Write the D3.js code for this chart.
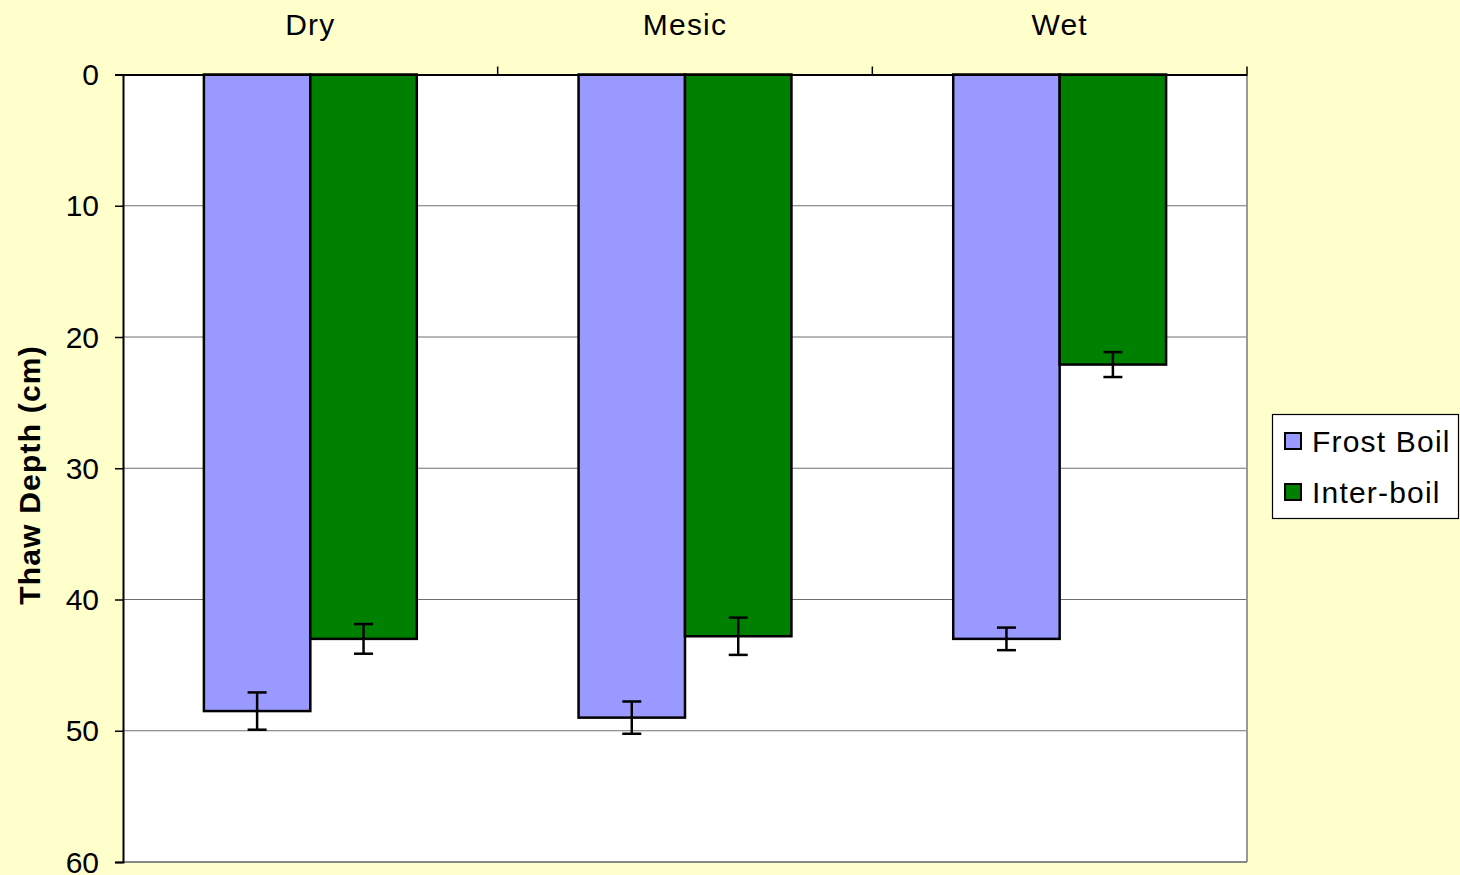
<!DOCTYPE html>
<html><head><meta charset="utf-8">
<script src="https://cdn.jsdelivr.net/npm/d3@7"></script>
<style>html,body{margin:0;padding:0;background:#FFFFCC;}svg{display:block;}</style>
</head><body>
<svg id="c" width="1460" height="875"></svg>
<script>
const categories = ["Dry", "Mesic", "Wet"];
const seriesNames = ["Frost Boil", "Inter-boil"];
const frostBoil = [48.5, 49.0, 43.0];
const interBoil = [43.0, 42.8, 22.1];
const frostBoilErr = [1.42, 1.23, 0.86];
const interBoilErr = [1.13, 1.42, 0.95];
const yTicks = [0, 10, 20, 30, 40, 50, 60];
const colors = ["#9999FF", "#008000"];

const svg = d3.select("#c");
const font = "'Liberation Sans', Arial, sans-serif";
const L = 123, R = 1247, T = 74.5, B = 862;

svg.append("rect").attr("width",1460).attr("height",875).attr("fill","#FFFFCC");
svg.append("rect").attr("x",L).attr("y",T).attr("width",R-L).attr("height",B-T).attr("fill","#fff");

const y = d3.scaleLinear().domain([0,60]).range([T,B]);
const x0 = d3.scaleBand().domain(categories).range([L,R]).paddingInner(0).paddingOuter(0);
const x1 = d3.scaleBand().domain(seriesNames).range([0,x0.bandwidth()]).paddingOuter(0.76).paddingInner(0);

// gridlines
svg.append("g").selectAll("line").data(yTicks.filter(d=>d>0 && d<60)).join("line")
  .attr("x1",L).attr("x2",R).attr("y1",d=>y(d)).attr("y2",d=>y(d))
  .attr("stroke","#707070").attr("stroke-width",1.2);

// plot border right/bottom gray
svg.append("line").attr("x1",R).attr("x2",R).attr("y1",T).attr("y2",B).attr("stroke","#999").attr("stroke-width",2);
svg.append("line").attr("x1",L).attr("x2",R).attr("y1",B).attr("y2",B).attr("stroke","#888").attr("stroke-width",2);

const data = [frostBoil, interBoil];
const errs = [frostBoilErr, interBoilErr];
seriesNames.forEach((s,si)=>{
  const g = svg.append("g");
  g.selectAll("rect").data(categories).join("rect")
    .attr("x",c=>x0(c)+x1(s)).attr("y",y(0))
    .attr("width",x1.bandwidth()).attr("height",(c,i)=>y(data[si][i])-y(0))
    .attr("fill",colors[si]).attr("stroke","#000").attr("stroke-width",2.5);
});
seriesNames.forEach((s,si)=>{
  const g = svg.append("g");
  categories.forEach((c,i)=>{
    const cx = x0(c)+x1(s)+x1.bandwidth()/2;
    const v = data[si][i], e = errs[si][i];
    g.append("line").attr("x1",cx).attr("x2",cx).attr("y1",y(v-e)).attr("y2",y(v+e)).attr("stroke","#000").attr("stroke-width",2.5);
    [v-e, v+e].forEach(t=>g.append("line").attr("x1",cx-9.5).attr("x2",cx+9.5).attr("y1",y(t)).attr("y2",y(t)).attr("stroke","#000").attr("stroke-width",2.5));
  });
});

// y axis
const yAxis = d3.axisLeft(y).tickValues(yTicks).tickSize(8).tickPadding(16);
const ya = svg.append("g").attr("transform",`translate(${L},0)`).call(yAxis);
ya.select(".domain").attr("stroke","#000").attr("stroke-width",2);
ya.selectAll(".tick line").attr("stroke","#000").attr("stroke-width",1.5);
ya.selectAll(".tick text").attr("font-family",font).attr("font-size",30).attr("fill","#000").attr("dy","0.34em");

// top axis
const xAxis = d3.axisTop(x0).tickSize(0).tickPadding(40);
const xa = svg.append("g").attr("transform",`translate(0,${T})`).call(xAxis);
xa.select(".domain").attr("stroke","#000").attr("stroke-width",2);
xa.selectAll(".tick text").attr("font-family",font).attr("font-size",30).attr("letter-spacing","1.2px").attr("fill","#000");
// category boundary ticks
svg.append("g").selectAll("line").data(categories.slice(1).map(c=>x0(c)).concat([R])).join("line")
  .attr("x1",d=>d).attr("x2",d=>d).attr("y1",T).attr("y2",T-8).attr("stroke","#000").attr("stroke-width",1.5);

// y title
svg.append("text").attr("transform","translate(40,475) rotate(-90)").attr("text-anchor","middle")
  .attr("font-family",font).attr("font-size",30).attr("letter-spacing","1.2px").attr("font-weight","bold").text("Thaw Depth (cm)");

// legend
const lg = svg.append("g");
lg.append("rect").attr("x",1272.5).attr("y",414.5).attr("width",186).attr("height",104).attr("fill","#fff").attr("stroke","#000").attr("stroke-width",1.2);
seriesNames.forEach((s,i)=>{
  const yy = 441 + i*51;
  lg.append("rect").attr("x",1285).attr("y",yy-8).attr("width",16).attr("height",16).attr("fill",colors[i]).attr("stroke","#000").attr("stroke-width",2);
  lg.append("text").attr("x",1312).attr("y",yy).attr("dy","0.35em").attr("font-family",font).attr("font-size",30).attr("letter-spacing","1.2px").text(s);
});
</script>
</body></html>
